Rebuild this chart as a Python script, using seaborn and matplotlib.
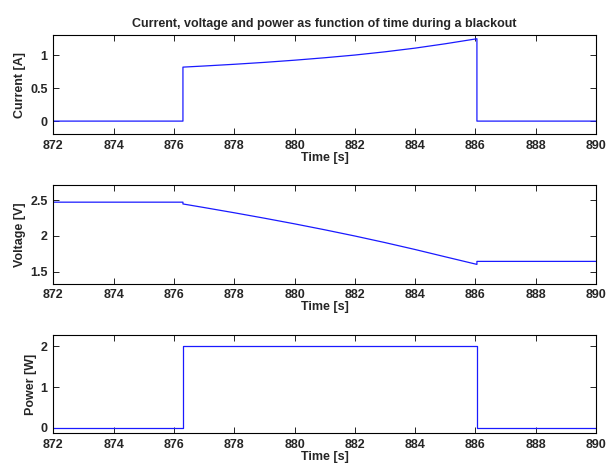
import matplotlib
matplotlib.use("Agg")
import matplotlib.pyplot as plt
import seaborn as sns
import pandas as pd

# ---- data ----
current_t = [872.0, 876.3, 876.3, 877.0, 878.0, 879.0, 880.0, 881.0, 882.0, 883.0,
             884.0, 885.0, 886.05, 886.05, 890.0]
current_a = [0.0, 0.0, 0.818, 0.835, 0.861, 0.89, 0.923, 0.96, 1.001, 1.05,
             1.106, 1.172, 1.248, 0.0, 0.0]

voltage_t = [872.0, 876.3, 876.3, 877.0, 878.0, 879.0, 880.0, 881.0, 882.0, 883.0,
             884.0, 885.0, 886.05, 886.05, 890.0]
voltage_v = [2.47, 2.47, 2.445, 2.395, 2.322, 2.246, 2.167, 2.084, 1.997, 1.905,
             1.808, 1.706, 1.60, 1.642, 1.642]

power_t = [872.0, 876.3, 876.3, 886.05, 886.05, 890.0]
power_w = [0.0, 0.0, 2.0, 2.0, 0.0, 0.0]

x_ticks = [872, 874, 876, 878, 880, 882, 884, 886, 888, 890]
title = "Current, voltage and power as function of time during a blackout"

sns.set_theme(style="white")
plt.rcParams["font.family"] = ["Liberation Sans", "DejaVu Sans"]
plt.rcParams["font.weight"] = "bold"

fig = plt.figure(figsize=(6.09, 4.66), dpi=100)
L, W = 0.0875, 0.8912
boxes = [(L, 0.7118, W, 0.2124), (L, 0.3912, W, 0.2118), (L, 0.0702, W, 0.2116)]

panels = [
    (current_t, current_a, "Current [A]", (-0.2, 1.3), [0, 0.5, 1], ["0", "0.5", "1"]),
    (voltage_t, voltage_v, "Voltage [V]", (1.33, 2.71), [1.5, 2, 2.5], ["1.5", "2", "2.5"]),
    (power_t, power_w, "Power [W]", (-0.14, 2.29), [0, 1, 2], ["0", "1", "2"]),
]

for i, (box, (t, y, lab, yl, yt, ytl)) in enumerate(zip(boxes, panels)):
    ax = fig.add_axes(box)
    df = pd.DataFrame({"t": t, "y": y})
    sns.lineplot(data=df, x="t", y="y", ax=ax, color="#1a1aff", linewidth=0.9,
                 sort=False, estimator=None)
    ax.set_xlim(872, 890)
    ax.set_ylim(*yl)
    ax.set_xticks(x_ticks)
    ax.set_xticklabels([str(v) for v in x_ticks], fontsize=9, fontweight="bold")
    ax.set_yticks(yt)
    ax.set_yticklabels(ytl, fontsize=9, fontweight="bold")
    ax.set_xlabel("Time [s]", fontsize=9, fontweight="bold", labelpad=0)
    ax.set_ylabel(lab, fontsize=9, fontweight="bold", labelpad=3)
    ax.tick_params(direction="in", length=4, width=0.6, color="black",
                   top=True, right=True, bottom=True, left=True, pad=4)
    for s in ax.spines.values():
        s.set_color("black")
        s.set_linewidth(0.8)
    ax.grid(False)
    if i == 0:
        ax.set_title(title, fontsize=9, fontweight="bold", pad=6)

fig.savefig("out.png", dpi=100, facecolor="white")
